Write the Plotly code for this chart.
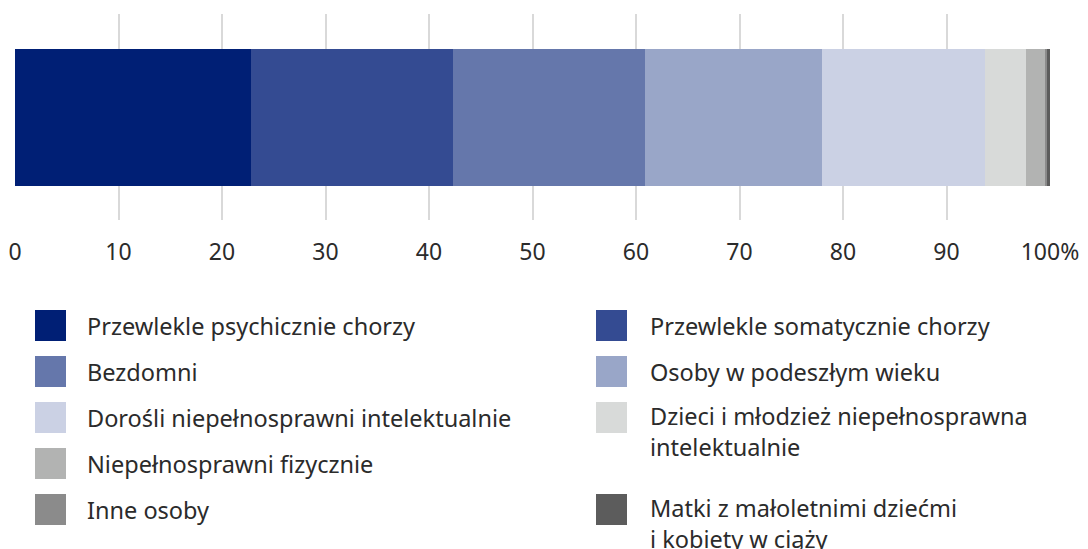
import plotly.graph_objects as go

# ---- data ----
categories = [
    "Przewlekle psychicznie chorzy",
    "Przewlekle somatycznie chorzy",
    "Bezdomni",
    "Osoby w podeszłym wieku",
    "Dorośli niepełnosprawni intelektualnie",
    "Dzieci i młodzież niepełnosprawna intelektualnie",
    "Niepełnosprawni fizycznie",
    "Inne osoby",
    "Matki z małoletnimi dziećmi i kobiety w ciąży",
]
values = [22.8, 19.5, 18.6, 17.1, 15.7, 4.0, 1.8, 0.2, 0.3]
colors = ["#001f75", "#344b92", "#6577ab", "#99a6c8", "#cbd1e4",
          "#d8dad9", "#b2b3b2", "#8b8b8b", "#5c5c5c"]
legend_labels = [
    "Przewlekle psychicznie chorzy",
    "Przewlekle somatycznie chorzy",
    "Bezdomni",
    "Osoby w podeszłym wieku",
    "Dorośli niepełnosprawni intelektualnie",
    "Dzieci i młodzież niepełnosprawna<br>intelektualnie",
    "Niepełnosprawni fizycznie",
    "Inne osoby",
    "Matki z małoletnimi dziećmi<br>i kobiety w ciąży",
]
legend_left = [0, 2, 4, 6, 7]
legend_right = [1, 3, 5, 8]
tick_vals = [0, 10, 20, 30, 40, 50, 60, 70, 80, 90, 100]
tick_text = ["0", "10", "20", "30", "40", "50", "60", "70", "80", "90", "100%"]

FONT = "Noto Sans"
FS = 23
LFS = 23.5
OFF = 8                      # page body margin
W, H = 1088 - OFF, 549 - OFF
# plot area in screen pixels: x 15..1050, y 14..220
ML = 15 - OFF
MR = W - (1050 - OFF)
MT = 14 - OFF
MB = H - (220 - OFF)

fig = go.Figure()
for name, v, c in zip(categories, values, colors):
    fig.add_trace(go.Bar(
        y=[""], x=[v], name=name, orientation="h",
        marker=dict(color=c, line=dict(width=0)),
        width=0.665, showlegend=False,
        hovertemplate=name + ": %{x}%<extra></extra>",
    ))

plot_w = W - ML - MR
plot_h = H - MT - MB


def px2x(px):  # screen px -> paper x
    return (px - OFF - ML) / plot_w


def px2y(py):  # screen px -> paper y
    return (H - MB - (py - OFF)) / plot_h


shapes = []
annotations = []
ROW0, ROWSTEP, SW = 310, 46, 31
LINE_H = 28


def place(col_items, sx, tx):
    row = 0
    for i in col_items:
        top = ROW0 + row * ROWSTEP
        shapes.append(dict(type="rect", xref="paper", yref="paper",
                           x0=px2x(sx), x1=px2x(sx + SW),
                           y0=px2y(top), y1=px2y(top + SW),
                           fillcolor=colors[i], line=dict(width=0)))
        nlines = legend_labels[i].count("<br>") + 1
        cy = top + SW / 2 + (nlines - 1) * LINE_H / 2
        annotations.append(dict(xref="paper", yref="paper", x=px2x(tx), y=px2y(cy),
                                text=legend_labels[i], showarrow=False,
                                xanchor="left", yanchor="middle", align="left",
                                font=dict(family=FONT, size=LFS, color="#2b2b2b")))
        row += nlines


place(legend_left, 35, 85)
place(legend_right, 596, 648)

fig.update_layout(
    width=W, height=H,
    margin=dict(l=ML, r=MR, t=MT, b=MB, autoexpand=False),
    barmode="stack",
    plot_bgcolor="white", paper_bgcolor="white",
    font=dict(family=FONT, size=FS, color="#2b2b2b"),
    shapes=shapes, annotations=annotations,
    xaxis=dict(range=[0, 100], tickvals=tick_vals, ticktext=tick_text,
               showgrid=True, gridcolor="#d9d9d9", gridwidth=2,
               zeroline=False, showline=False, automargin=False,
               ticks="outside", ticklen=0, ticklabelstandoff=11,
               tickfont=dict(family=FONT, size=FS, color="#2b2b2b"),
               fixedrange=True),
    yaxis=dict(showticklabels=False, showgrid=False, zeroline=False,
               automargin=False, range=[-0.5, 0.5], fixedrange=True),
    bargap=0,
)

fig.write_html("out.html")
